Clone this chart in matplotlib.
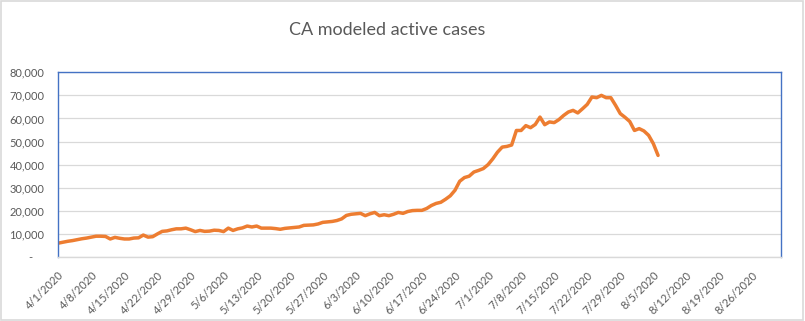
import datetime as dt
import matplotlib
matplotlib.use("Agg")
import matplotlib.pyplot as plt
from matplotlib.patches import Rectangle
from matplotlib.ticker import FuncFormatter

# modeled active cases, one value per day starting 4/1/2020
start = dt.date(2020, 4, 1)
active = [
    6000, 6400, 6800, 7100, 7500, 7900, 8200, 8600, 9000, 9000,
    8900, 7800, 8500, 8100, 7800, 7800, 8200, 8300, 9500, 8600,
    8800, 10000, 11100, 11300, 11800, 12200, 12200, 12500, 11800, 11000,
    11500, 11100, 11200, 11600, 11500, 11000, 12500, 11500, 12200, 12600,
    13400, 13000, 13400, 12500, 12500, 12500, 12300, 12000, 12400, 12600,
    12800, 13000, 13700, 13800, 13900, 14300, 15000, 15200, 15400, 15800,
    16500, 18000, 18500, 18700, 18900, 17900, 18700, 19300, 17900, 18300,
    17900, 18500, 19300, 18900, 19700, 20100, 20200, 20200, 21000, 22300,
    23200, 23700, 25000, 26500, 28900, 32800, 34400, 35000, 36800, 37500,
    38300, 40000, 42500, 45400, 47600, 47900, 48500, 54800, 54800, 56900,
    56000, 57400, 60600, 57300, 58500, 58200, 59500, 61300, 62800, 63500,
    62400, 64200, 66100, 69300, 69000, 70000, 69000, 69000, 65700, 62100,
    60500, 58700, 54800, 55600, 54600, 52700, 49100, 44000,
]
dates = [start + dt.timedelta(days=i) for i in range(len(active))]
tick_dates = [start + dt.timedelta(days=7 * i) for i in range(22)]
y_ticks = list(range(0, 80001, 10000))

plt.rcParams['font.family'] = ['Lato', 'DejaVu Sans']
txt = '#595959'
grid = '#D9D9D9'
blue = '#4472C4'

fig = plt.figure(figsize=(8.05, 3.21), dpi=100)
fig.patches.append(Rectangle((0.001, 0.002), 0.996, 0.995, transform=fig.transFigure,
                             fill=False, edgecolor=grid, linewidth=1.2))
ax = fig.add_axes([0.0724, 0.1994, 0.8976, 0.5754])

ax.plot(dates, active, color='#ED7D31', linewidth=2.5, solid_capstyle='round')

ax.set_xlim(start, start + dt.timedelta(days=153))
ax.set_ylim(0, 80000)
ax.set_yticks(y_ticks)
ax.yaxis.set_major_formatter(FuncFormatter(lambda v, p: '-    ' if v == 0 else f'{int(v):,}'))
ax.set_xticks(tick_dates)
ax.set_xticklabels([f'{d.month}/{d.day}/{d.year}' for d in tick_dates],
                   rotation=45, ha='right', rotation_mode='anchor')
ax.tick_params(axis='both', length=0, colors=txt, labelsize=8)
ax.tick_params(axis='y', pad=10)
ax.tick_params(axis='x', pad=9)
ax.grid(axis='y', color=grid, linewidth=0.9)
ax.set_axisbelow(True)

for side in ('left', 'top', 'right'):
    ax.spines[side].set_color(blue)
    ax.spines[side].set_linewidth(1.0)
ax.spines['bottom'].set_color(grid)
ax.spines['bottom'].set_linewidth(1.0)

fig.text(0.481, 0.905, 'CA modeled active cases', ha='center', va='center',
         fontsize=13, color=txt)

fig.savefig('out.png', dpi=100)
